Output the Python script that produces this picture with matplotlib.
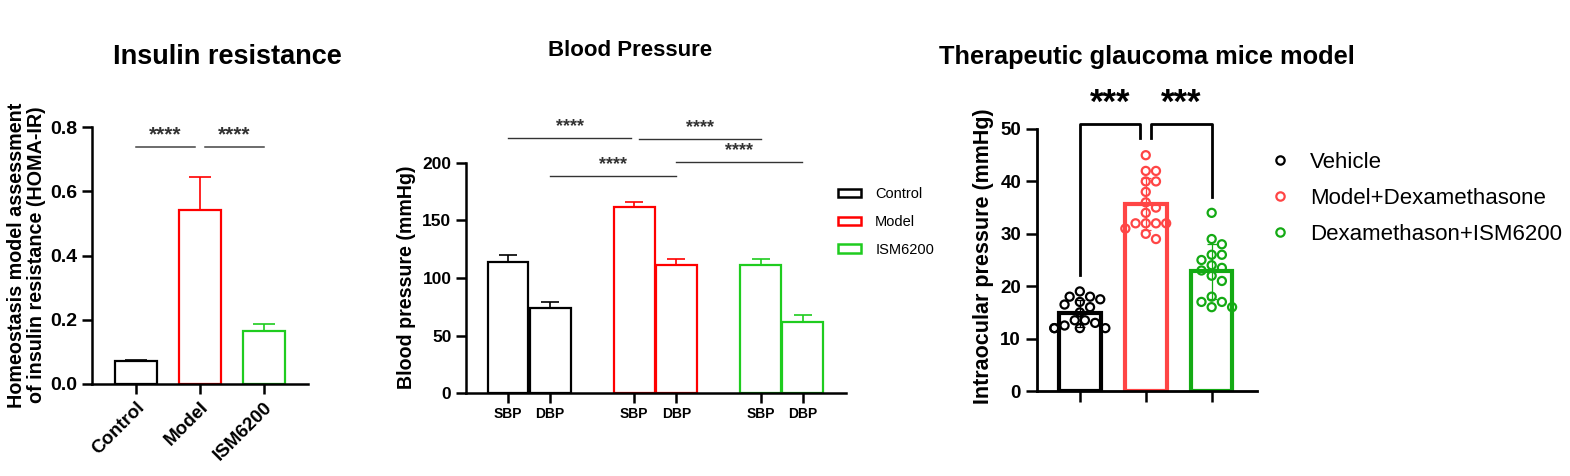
import numpy as np
import matplotlib
matplotlib.use("Agg")
import matplotlib.pyplot as plt
from matplotlib.patches import Patch
from matplotlib.lines import Line2D

plt.rcParams["font.family"] = ["Liberation Sans", "DejaVu Sans"]

# Insulin resistance (HOMA-IR)
ir_groups = ["Control", "Model", "ISM6200"]
ir_mean = [0.072, 0.543, 0.166]
ir_err = [0.004, 0.102, 0.021]

# Blood pressure, [SBP, DBP]
bp_measures = ["SBP", "DBP"]
bp_groups = ["Control", "Model", "ISM6200"]
bp_control = [114, 74]
bp_model = [161.5, 111.5]
bp_ism = [111.5, 61.5]
bp_control_err = [6.4, 4.7]
bp_model_err = [4.7, 5.2]
bp_ism_err = [5.2, 6.1]

# Glaucoma model, intraocular pressure per mouse
iop_groups = ["Vehicle", "Model+Dexamethasone", "Dexamethason+ISM6200"]
iop_vehicle = [19, 18, 18, 17.5, 17, 16.5, 16, 15, 13.5, 13.5, 13, 12.5, 12, 12, 12, 12]
iop_model = [45, 42, 42, 40, 40, 38, 36, 35, 34, 32, 32, 32, 32, 31, 30, 29]
iop_ism = [34, 29, 28, 26, 26, 25, 24, 23.5, 23, 22, 21, 18, 17, 17, 16, 16]

RED = "#FF0000"
GREEN = "#1FCC1F"
RED3 = "#FF4545"
GREEN3 = "#14AA14"

W, H = 1570, 476
fig = plt.figure(figsize=(W / 100, H / 100), dpi=100)


def px_axes(x0, x1, ytop, ybot):
    return fig.add_axes([x0 / W, 1 - ybot / H, (x1 - x0) / W, (ybot - ytop) / H])


def style(ax, lw=1.8):
    for s in ["top", "right"]:
        ax.spines[s].set_visible(False)
    for s in ["left", "bottom"]:
        ax.spines[s].set_linewidth(lw)


def swarm(ax, x0, values, d=8.5):
    # simple greedy beeswarm in pixel space
    tr = ax.transData
    placed = []
    xs = np.zeros(len(values))
    order = np.argsort(values)[::-1]
    for i in order:
        px0, py = tr.transform((x0, values[i]))
        for k in [0, 1, -1, 2, -2, 3, -3, 4, -4, 5, -5]:
            px = px0 + k * d * 0.6
            if all((px - a) ** 2 + (py - b) ** 2 >= (d * 0.95) ** 2 for a, b in placed):
                break
        placed.append((px, py))
        xs[i] = tr.inverted().transform((px, py))[0]
    return xs


# ---------------- Panel 1 ----------------
ax1 = px_axes(92, 308, 127, 384)
style(ax1)
x1 = np.arange(len(ir_groups))
cols1 = ["black", RED, GREEN]
for i in range(len(ir_groups)):
    ax1.bar(x1[i], ir_mean[i], width=0.65, facecolor="white", edgecolor=cols1[i], linewidth=1.6, zorder=2)
    ax1.errorbar(x1[i], ir_mean[i], yerr=[[0], [ir_err[i]]], color=cols1[i], capsize=8, elinewidth=1.2,
                 capthick=1.2, zorder=1)
ax1.set_xlim(-0.69, 2.69)
ax1.set_ylim(0, 0.8)
ax1.set_yticks([0, 0.2, 0.4, 0.6, 0.8])
ax1.set_yticklabels(["0.0", "0.2", "0.4", "0.6", "0.8"], fontsize=14, fontweight="bold")
ax1.set_xticks(x1)
ax1.set_xticklabels(ir_groups, fontsize=13.5, fontweight="bold", rotation=45, ha="right", va="top",
                    rotation_mode="anchor")
ax1.tick_params(axis="both", length=7, width=1.8)
for a, b in [(0, 0.92), (1.08, 2)]:
    ax1.plot([a, b], [0.739, 0.739], color="#444444", lw=1.1, clip_on=False)
    ax1.text((a + b) / 2, 0.745, "****", ha="center", va="bottom", fontsize=15, fontweight="bold", color="#333333")
fig.text(26.5 / W, 1 - 255 / H, "Homeostasis model assessment\nof insulin resistance (HOMA-IR)",
         rotation=90, ha="center", va="center", fontsize=14.2, fontweight="semibold", linespacing=1.1)
fig.text(227 / W, 1 - 57 / H, "Insulin resistance", ha="center", va="center", fontsize=19.5, fontweight="bold")

# ---------------- Panel 2 ----------------
ax2 = px_axes(466, 846, 163, 393)
style(ax2)
bp_vals = [bp_control, bp_model, bp_ism]
bp_errs = [bp_control_err, bp_model_err, bp_ism_err]
cols2 = ["black", RED, GREEN]
xpos2 = []
for g in range(len(bp_groups)):
    for m in range(len(bp_measures)):
        x = g * 3 + m
        xpos2.append(x)
        ax2.bar(x, bp_vals[g][m], width=0.97, facecolor="white", edgecolor=cols2[g], linewidth=1.6, zorder=2)
        ax2.errorbar(x, bp_vals[g][m], yerr=[[0], [bp_errs[g][m]]], color=cols2[g], capsize=6.5,
                     elinewidth=1.2, capthick=1.2, zorder=1)
ax2.set_xlim(-1.0, 8.03)
ax2.set_ylim(0, 200)
ax2.set_yticks([0, 50, 100, 150, 200])
ax2.set_yticklabels(["0", "50", "100", "150", "200"], fontsize=12.5, fontweight="bold")
ax2.set_xticks(xpos2)
ax2.set_xticklabels(bp_measures * 3, fontsize=10, fontweight="bold")
ax2.tick_params(axis="both", length=7, width=1.8)
ax2.tick_params(axis="x", pad=3)
sig2 = [(0, 2.92, 221.5), (3.1, 6.0, 221), (1.0, 3.99, 188.7), (3.99, 6.98, 200.5)]
for a, b, yv in sig2:
    ax2.plot([a, b], [yv, yv], color="#333333", lw=1.0, clip_on=False)
    ax2.text((a + b) / 2, yv + 2.5, "****", ha="center", va="bottom", fontsize=13, fontweight="bold", color="#333333")
handles2 = [Patch(facecolor="white", edgecolor=c, linewidth=1.8) for c in cols2]
ax2.legend(handles2, bp_groups, loc="upper left", bbox_to_anchor=(838 / W, 1 - 187 / H),
           bbox_transform=fig.transFigure, frameon=False, fontsize=10.5, handlelength=1.55,
           handleheight=0.5, handletextpad=1.0, labelspacing=0.95, borderpad=0, borderaxespad=0)
fig.text(406 / W, 1 - 277 / H, "Blood pressure (mmHg)", rotation=90, ha="center", va="center",
         fontsize=14.1, fontweight="bold")
fig.text(630 / W, 1 - 50 / H, "Blood Pressure", ha="center", va="center", fontsize=16, fontweight="bold")

# ---------------- Panel 3 ----------------
ax3 = px_axes(1037, 1256.5, 129, 391)
style(ax3, lw=2.0)
ax3.set_xlim(-0.65, 2.68)
ax3.set_ylim(0, 50)
iop_data = [iop_vehicle, iop_model, iop_ism]
cols3 = ["black", RED3, GREEN3]
for i, vals in enumerate(iop_data):
    vals = np.array(vals, dtype=float)
    m, sd = vals.mean(), vals.std(ddof=1)
    ax3.bar(i, m, width=0.63, facecolor="white", edgecolor=cols3[i], linewidth=3.0, zorder=1)
    ax3.errorbar(i, m, yerr=sd, color=cols3[i], capsize=3.5, elinewidth=0.9, capthick=0.9, zorder=2)
    xs = swarm(ax3, i, vals)
    ax3.scatter(xs, vals, s=34, facecolors="none", edgecolors=cols3[i], linewidths=1.6, zorder=3,
                clip_on=False)
ax3.set_yticks([0, 10, 20, 30, 40, 50])
ax3.set_yticklabels(["0", "10", "20", "30", "40", "50"], fontsize=13.5, fontweight="bold")
ax3.set_xticks([0, 1, 2])
ax3.set_xticklabels([])
ax3.tick_params(axis="both", length=8, width=1.8)
# significance brackets
for (a, b, ya, yb) in [(0, 0.92, 22.1, 48.2), (1.08, 2, 48.2, 37.1)]:
    ax3.plot([a, a, b, b], [ya, 50.9, 50.9, yb], color="black", lw=2.0, clip_on=False)
    ax3.text((a + b) / 2, 51.8, "***", ha="center", va="bottom", fontsize=25, fontweight="bold")
handles3 = [Line2D([], [], ls="none", marker="o", mfc="none", mec=c, mew=1.6, ms=6) for c in cols3]
ax3.legend(handles3, iop_groups, loc="upper left", bbox_to_anchor=(1269 / W, 1 - 152 / H),
           bbox_transform=fig.transFigure, frameon=False, fontsize=16, handlelength=1.0,
           handletextpad=0.86, labelspacing=0.67, borderpad=0, borderaxespad=0)
fig.text(983 / W, 1 - 256 / H, "Intraocular pressure (mmHg)", rotation=90, ha="center", va="center",
         fontsize=15.5, fontweight="bold")
fig.text(1146.5 / W, 1 - 57 / H, "Therapeutic glaucoma mice model", ha="center", va="center",
         fontsize=18.3, fontweight="bold")

fig.savefig("out.png", dpi=100)
